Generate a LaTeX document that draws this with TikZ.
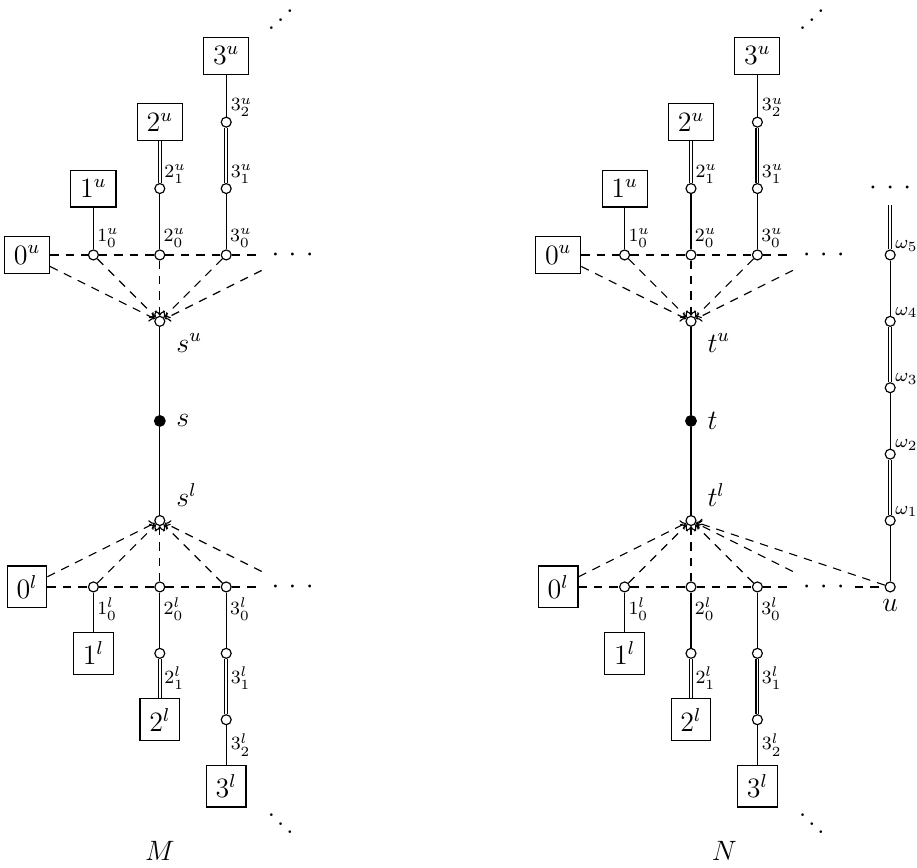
\documentclass[tikz,border=0pt]{standalone}
\usetikzlibrary{arrows.meta}
\tikzset{
  vbox/.style={draw, inner sep=4pt, font=\fontsize{12}{14}\selectfont},
  vtx/.style={circle, draw, fill=white, inner sep=0pt, minimum size=0.15cm},
  fvtx/.style={circle, draw, fill=black, inner sep=0pt, minimum size=0.16cm},
  slbl/.style={inner sep=0pt, font=\fontsize{8}{9}\selectfont},
  blbl/.style={inner sep=0pt, font=\fontsize{12}{14}\selectfont},
  hdots/.style={inner sep=4pt, font=\fontsize{12}{14}\selectfont},
  ddotsn/.style={inner sep=0pt, font=\fontsize{12}{14}\selectfont},
  dbl/.style={double, double distance=0.7pt},
  dsh/.style={dash pattern=on 3.6pt off 3pt},
  fan/.style={dsh, -{To[scale=0.8]}},
}
\newcommand\myupdots{$.\mkern1mu\raise3.6pt\hbox{$.$}\mkern1mu\raise7.2pt\hbox{$.$}$}
\newcommand\mydndots{$\raise7.2pt\hbox{$.$}\mkern1mu\raise3.6pt\hbox{$.$}\mkern1mu.$}
\newcommand\mypanel[3]{%
\begin{scope}[xshift=#3cm]
 \node[vbox] (#1B0u) at (0,0) {$0^u$};
 \node[vbox] (#1B1u) at (1,1) {$1^u$};
 \node[vbox] (#1B2u) at (2,2) {$2^u$};
 \node[vbox] (#1B3u) at (3,3) {$3^u$};
 \node[vtx] (#1C10u) at (1,0) {};
 \node[vtx] (#1C20u) at (2,0) {};
 \node[vtx] (#1C21u) at (2,1) {};
 \node[vtx] (#1C30u) at (3,0) {};
 \node[vtx] (#1C31u) at (3,1) {};
 \node[vtx] (#1C32u) at (3,2) {};
 \node[hdots] (#1Du) at (4,0) {$\cdotp\,\cdotp\,\cdotp$};
 \node[vtx] (#1U) at (2,-1) {};
 \node[fvtx] (#1M) at (2,-2.5) {};
 \node[vtx] (#1L) at (2,-4) {};
 \node[vbox] (#1B0l) at (0,-5) {$0^l$};
 \node[vbox] (#1B1l) at (1,-6) {$1^l$};
 \node[vbox] (#1B2l) at (2,-7) {$2^l$};
 \node[vbox] (#1B3l) at (3,-8) {$3^l$};
 \node[vtx] (#1C10l) at (1,-5) {};
 \node[vtx] (#1C20l) at (2,-5) {};
 \node[vtx] (#1C21l) at (2,-6) {};
 \node[vtx] (#1C30l) at (3,-5) {};
 \node[vtx] (#1C31l) at (3,-6) {};
 \node[vtx] (#1C32l) at (3,-7) {};
 \node[hdots] (#1Dl) at (4,-5) {$\cdotp\,\cdotp\,\cdotp$};
 \node[ddotsn] (#1Dtop) at (3.82,3.54) {\myupdots};
 \node[ddotsn] (#1Dbot) at (3.82,-8.57) {\mydndots};
 % labels
 \node[slbl, anchor=south west] (#1T10u) at (1.05,0.1) {$1^u_0$};
 \node[slbl, anchor=south west] (#1T20u) at (2.05,0.1) {$2^u_0$};
 \node[slbl, anchor=south west] (#1T21u) at (2.06,1.07) {$2^u_1$};
 \node[slbl, anchor=south west] (#1T30u) at (3.05,0.1) {$3^u_0$};
 \node[slbl, anchor=south west] (#1T31u) at (3.06,1.07) {$3^u_1$};
 \node[slbl, anchor=south west] (#1T32u) at (3.06,2.07) {$3^u_2$};
 \node[slbl, anchor=north west] (#1T10l) at (1.05,-5.16) {$1^l_0$};
 \node[slbl, anchor=north west] (#1T20l) at (2.05,-5.16) {$2^l_0$};
 \node[slbl, anchor=north west] (#1T21l) at (2.06,-6.2) {$2^l_1$};
 \node[slbl, anchor=north west] (#1T30l) at (3.05,-5.16) {$3^l_0$};
 \node[slbl, anchor=north west] (#1T31l) at (3.06,-6.2) {$3^l_1$};
 \node[slbl, anchor=north west] (#1T32l) at (3.06,-7.2) {$3^l_2$};
 \node[blbl, anchor=north west] (#1TU) at (2.24,-1.18) {$#2^u$};
 \node[blbl, anchor=west] (#1TM) at (2.24,-2.5) {$#2$};
 \node[blbl, anchor=south west] (#1TL) at (2.24,-3.8) {$#2^l$};
 % solid edges, upper
 \draw (#1C10u) -- (#1B1u);
 \draw (#1C20u) -- (#1C21u);
 \draw[dbl] (#1C21u) -- (#1B2u);
 \draw (#1C30u) -- (#1C31u);
 \draw[dbl] (#1C31u) -- (#1C32u);
 \draw (#1C32u) -- (#1B3u);
 % middle
 \draw (#1U) -- (#1M);
 \draw (#1M) -- (#1L);
 % solid edges, lower
 \draw (#1C10l) -- (#1B1l);
 \draw (#1C20l) -- (#1C21l);
 \draw[dbl] (#1C21l) -- (#1B2l);
 \draw (#1C30l) -- (#1C31l);
 \draw[dbl] (#1C31l) -- (#1C32l);
 \draw (#1C32l) -- (#1B3l);
 % dashed rows
 \draw[dsh] (#1B0u) -- (#1C10u);
 \draw[dsh] (#1C10u) -- (#1C20u);
 \draw[dsh] (#1C20u) -- (#1C30u);
 \draw[dsh] (#1C30u) -- (#1Du);
 \draw[dsh] (#1B0l) -- (#1C10l);
 \draw[dsh] (#1C10l) -- (#1C20l);
 \draw[dsh] (#1C20l) -- (#1C30l);
 \draw[dsh] (#1C30l) -- (#1Dl);
 % fans
 \foreach \n in {B0u,C10u,C20u,C30u,Du} \draw[fan] (#1\n) -- (#1U);
 \foreach \n in {B0l,C10l,C20l,C30l,Dl} \draw[fan] (#1\n) -- (#1L);
\end{scope}}
\begin{document}
\begin{tikzpicture}[line width=0.5pt, font=\fontsize{12}{14}\selectfont]
\useasboundingbox (-0.407,-9.232) rectangle (13.404,3.84);
\mypanel{A}{s}{0}
\mypanel{B}{t}{8}
\node (Mlab) at (2,-8.98) {$M$};
\node (Nlab) at (10.5,-8.98) {$N$};
% omega chain
\node[vtx] (u) at (13,-5) {};
\node[vtx] (w1) at (13,-4) {};
\node[vtx] (w2) at (13,-3) {};
\node[vtx] (w3) at (13,-2) {};
\node[vtx] (w4) at (13,-1) {};
\node[vtx] (w5) at (13,0) {};
\node[hdots] (wd) at (13,1) {$\cdotp\,\cdotp\,\cdotp$};
\node[blbl, anchor=north] (ulab) at (13,-5.18) {$u$};
\node[slbl, anchor=south west] (w1lab) at (13.07,-3.955) {$\omega_1$};
\node[slbl, anchor=south west] (w2lab) at (13.07,-2.955) {$\omega_2$};
\node[slbl, anchor=south west] (w3lab) at (13.07,-1.955) {$\omega_3$};
\node[slbl, anchor=south west] (w4lab) at (13.07,-0.955) {$\omega_4$};
\node[slbl, anchor=south west] (w5lab) at (13.07,0.045) {$\omega_5$};
\draw (u) -- (w1);
\draw[dbl] (w1) -- (w2);
\draw (w2) -- (w3);
\draw[dbl] (w3) -- (w4);
\draw (w4) -- (w5);
\draw[dbl] (w5) -- (wd);
\draw[dsh] (BDl) -- (u);
\draw[fan] (u) -- (BL);
\end{tikzpicture}
\end{document}
